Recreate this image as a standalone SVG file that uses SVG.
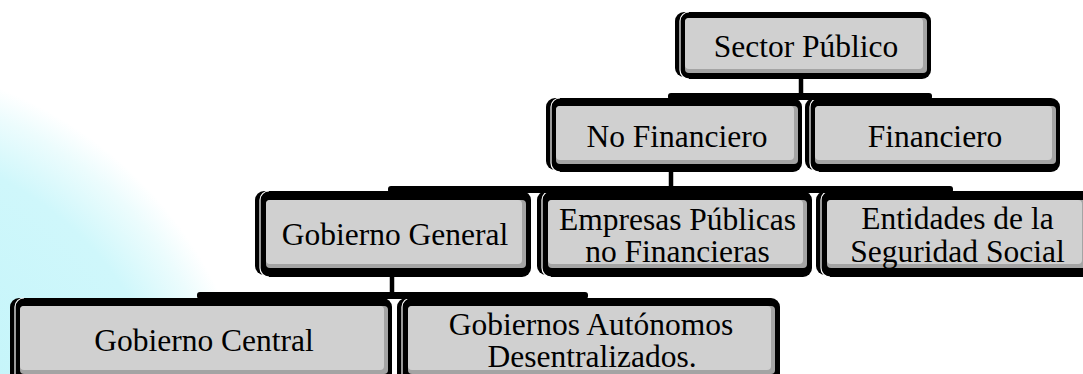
<svg xmlns="http://www.w3.org/2000/svg" width="1083" height="374" viewBox="0 0 1083 374">
<style>
.bk{fill:#000}
.fr{fill:#000}
.gap{fill:none;stroke:#fff;stroke-width:1.2}
.dk{fill:#a4a4a4}
.lt{fill:#d0d0d0}
.t{font-family:"Liberation Serif","Times New Roman",serif;font-size:31.5px;fill:#000;text-anchor:middle}
.bar{fill:#000}
.v{stroke:#000;stroke-width:4.5}
</style>
<defs>
<radialGradient id="bg" gradientUnits="userSpaceOnUse" cx="-150" cy="470" r="410">
<stop offset="0" stop-color="#bcf3f9"/>
<stop offset="0.8" stop-color="#cff7fb"/>
<stop offset="0.93" stop-color="#ecfcfd"/>
<stop offset="1" stop-color="#ffffff"/>
</radialGradient>
</defs>
<rect width="1083" height="374" fill="#fff"/>
<circle cx="-150" cy="470" r="410" fill="url(#bg)"/>

<g id="n-sector-publico">
<rect class="bk" x="675" y="12" width="246" height="65" rx="9"/>
<rect class="fr" x="680" y="12" width="251" height="67" rx="9"/>
<path class="gap" d="M689 12A9 9 0 0 0 680 21V70A9 9 0 0 0 689 79"/>
<rect class="dk" x="685" y="18" width="242" height="55" rx="4"/>
<rect class="lt" x="685" y="18" width="238" height="51" rx="4"/>
<text class="t" x="806" y="57">Sector Público</text>
</g>

<g id="n-no-financiero">
<rect class="bk" x="546" y="98" width="246" height="72" rx="9"/>
<rect class="fr" x="551" y="98" width="251" height="74" rx="9"/>
<path class="gap" d="M560 98A9 9 0 0 0 551 107V163A9 9 0 0 0 560 172"/>
<rect class="dk" x="556" y="106" width="242" height="58" rx="4"/>
<rect class="lt" x="556" y="106" width="238" height="54" rx="4"/>
<text class="t" x="677" y="147">No Financiero</text>
</g>

<g id="n-financiero">
<rect class="bk" x="805" y="98" width="245" height="72" rx="9"/>
<rect class="fr" x="810" y="98" width="250" height="74" rx="9"/>
<path class="gap" d="M819 98A9 9 0 0 0 810 107V163A9 9 0 0 0 819 172"/>
<rect class="dk" x="815" y="106" width="241" height="58" rx="4"/>
<rect class="lt" x="815" y="106" width="237" height="54" rx="4"/>
<text class="t" x="935" y="147">Financiero</text>
</g>

<g id="n-gobierno-general">
<rect class="bk" x="255" y="191" width="266" height="84" rx="9"/>
<rect class="fr" x="260" y="191" width="271" height="86" rx="9"/>
<path class="gap" d="M269 191A9 9 0 0 0 260 200V268A9 9 0 0 0 269 277"/>
<rect class="dk" x="266" y="200" width="260" height="68" rx="4"/>
<rect class="lt" x="266" y="200" width="256" height="64" rx="4"/>
<text class="t" x="395" y="245">Gobierno General</text>
</g>

<g id="n-empresas">
<rect class="bk" x="537" y="191" width="265" height="84" rx="9"/>
<rect class="fr" x="542" y="191" width="270" height="86" rx="9"/>
<path class="gap" d="M551 191A9 9 0 0 0 542 200V268A9 9 0 0 0 551 277"/>
<rect class="dk" x="548" y="200" width="259" height="68" rx="4"/>
<rect class="lt" x="548" y="200" width="255" height="64" rx="4"/>
<text class="t" x="677.5" y="230">Empresas Públicas</text>
<text class="t" x="677.5" y="262">no Financieras</text>
</g>

<g id="n-entidades">
<rect class="bk" x="816" y="191" width="265" height="84" rx="9"/>
<rect class="fr" x="821" y="191" width="270" height="86" rx="9"/>
<path class="gap" d="M830 191A9 9 0 0 0 821 200V268A9 9 0 0 0 830 277"/>
<rect class="dk" x="827" y="200" width="259" height="68" rx="4"/>
<rect class="lt" x="827" y="200" width="255" height="64" rx="4"/>
<text class="t" x="957.5" y="229">Entidades de la</text>
<text class="t" x="957.5" y="262">Seguridad Social</text>
</g>

<g id="n-gobierno-central">
<rect class="bk" x="10" y="298" width="372" height="84" rx="9"/>
<rect class="fr" x="15" y="298" width="377" height="86" rx="9"/>
<path class="gap" d="M24 298A9 9 0 0 0 15 307V375A9 9 0 0 0 24 384"/>
<rect class="dk" x="20" y="306" width="368" height="68" rx="4"/>
<rect class="lt" x="20" y="306" width="364" height="64" rx="4"/>
<text class="t" x="204" y="351">Gobierno Central</text>
</g>

<g id="n-gobiernos-autonomos">
<rect class="bk" x="397" y="298" width="373" height="84" rx="9"/>
<rect class="fr" x="402" y="298" width="378" height="86" rx="9"/>
<path class="gap" d="M411 298A9 9 0 0 0 402 307V375A9 9 0 0 0 411 384"/>
<rect class="dk" x="408" y="306" width="367" height="68" rx="4"/>
<rect class="lt" x="408" y="306" width="363" height="64" rx="4"/>
<text class="t" x="591" y="335">Gobiernos Autónomos</text>
<text class="t" x="592" y="367">Desentralizados.</text>
</g>

<g id="connectors">
<line class="v" x1="801" y1="78" x2="801" y2="95"/>
<rect class="bar" x="668" y="93" width="264" height="7" rx="3"/>
<line class="v" x1="671" y1="171" x2="671" y2="188"/>
<rect class="bar" x="388" y="186" width="565" height="7" rx="3"/>
<line class="v" x1="392" y1="276" x2="392" y2="294"/>
<rect class="bar" x="197" y="292" width="391" height="7" rx="3"/>
</g>
</svg>
